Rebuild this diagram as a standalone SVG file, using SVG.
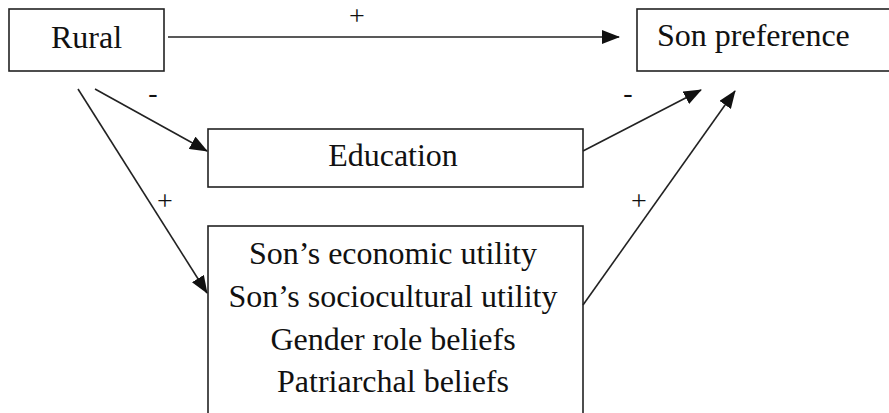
<svg xmlns="http://www.w3.org/2000/svg" width="889" height="413" viewBox="0 0 889 413">
<defs>
<marker id="ah" markerUnits="userSpaceOnUse" markerWidth="18" markerHeight="14" viewBox="0 0 18 14" refX="17" refY="7" orient="auto">
<path d="M0,0 L18,7 L0,14 Z" fill="#111"/>
</marker>
</defs>
<rect width="889" height="413" fill="#fff"/>
<g font-family="Liberation Serif, serif" font-size="32" fill="#111" text-anchor="middle">
<g id="rural">
<rect x="9" y="9" width="155" height="62" fill="#fff" stroke="#222" stroke-width="1.6"/>
<text x="86.5" y="48">Rural</text>
</g>
<g id="son-preference">
<rect x="637" y="9" width="270" height="62" fill="#fff" stroke="#222" stroke-width="1.6"/>
<text x="657" y="46" text-anchor="start">Son preference</text>
</g>
<g id="education">
<rect x="208" y="129" width="375" height="58" fill="#fff" stroke="#222" stroke-width="1.6"/>
<text x="393" y="166">Education</text>
</g>
<g id="mediators">
<rect x="208" y="226" width="375" height="200" fill="#fff" stroke="#222" stroke-width="1.6"/>
<text x="393" y="264">Son’s economic utility</text>
<text x="393" y="307">Son’s sociocultural utility</text>
<text x="393" y="350">Gender role beliefs</text>
<text x="393" y="392">Patriarchal beliefs</text>
</g>
<g id="connectors" font-size="28">
<g stroke="#222" stroke-width="1.6" fill="none" marker-end="url(#ah)">
<line x1="168" y1="37" x2="619" y2="37"/>
<line x1="95" y1="89" x2="207" y2="151"/>
<line x1="78" y1="89" x2="207" y2="293"/>
<line x1="583" y1="151" x2="701" y2="90"/>
<line x1="583" y1="305" x2="735" y2="91"/>
</g>
<text x="357" y="25">+</text>
<text x="153" y="102">-</text>
<text x="628" y="102">-</text>
<text x="165" y="210">+</text>
<text x="639" y="210">+</text>
</g>
</g>
</svg>
